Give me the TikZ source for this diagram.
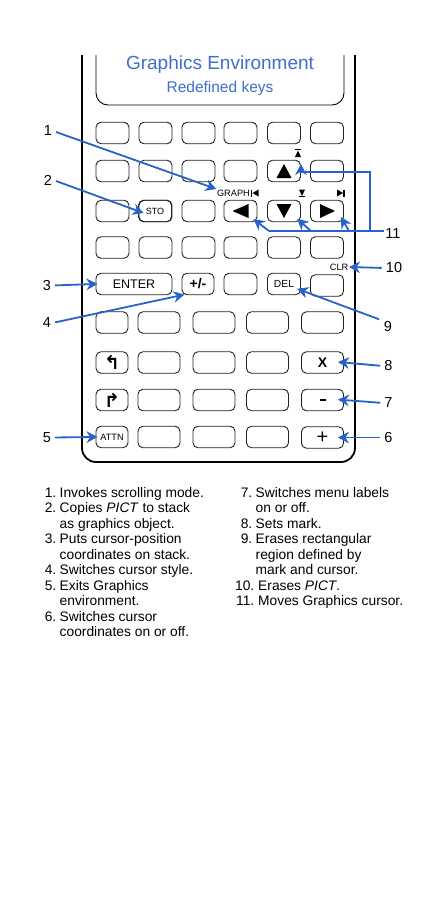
\documentclass[tikz,border=0pt]{standalone}
\usepackage{fontspec}
\setmainfont{Liberation Sans}
\newfontfamily\dejavu{DejaVu Sans}
\usetikzlibrary{arrows.meta,calc}
\definecolor{arrowblue}{RGB}{40,100,200}
\definecolor{titleblue}{RGB}{65,110,205}
\definecolor{keyline}{RGB}{35,35,35}
\begin{document}
\begin{tikzpicture}[x=1pt,y=-1pt,
  key/.style={draw=keyline,line width=0.9pt,rounded corners=5pt,inner sep=0pt,minimum height=21.5pt},
  kw/.style={key,minimum width=33pt},
  kl/.style={key,minimum width=42pt},
  ks/.style={key,minimum width=32pt},
  ptr/.style={draw=arrowblue,line width=1.8pt,-{Stealth[length=11pt,width=11.5pt,inset=3.5pt]}},
  pline/.style={draw=arrowblue,line width=1.8pt},
  num/.style={font=\fontsize{14.5}{14.5}\selectfont,inner sep=1pt},
  small/.style={font=\fontsize{9.2}{10}\selectfont,inner sep=0.5pt},
  itemnum/.style={anchor=base east,inner sep=0pt,font=\fontsize{13.8}{15.5}\selectfont},
  itemtxt/.style={anchor=base west,inner sep=0pt,font=\fontsize{13.8}{15.5}\selectfont},
  glyph/.style={fill=black}]
\useasboundingbox (0,0) rectangle (425,900);
\fill[white] (0,0) rectangle (425,900);

% body
\draw[line width=1.8pt,rounded corners=14pt] (82,55) -- (82,462) -- (355,462) -- (355,55);
% screen
\draw[line width=0.9pt,rounded corners=12pt] (96,55) -- (96,105) -- (344,105) -- (344,55);
\node[titleblue,font=\fontsize{19}{20}\selectfont] (title) at (220,65) {Graphics Environment};
\node[titleblue,font=\fontsize{15.5}{17}\selectfont] (subtitle) at (220,88.5) {Redefined keys};

% rows 1-4 (six keys)
\foreach \r/\y in {1/133,2/171,3/211,4/247.5}{
  \foreach \c/\x in {1/112.5,2/155.5,3/198.5,4/240.5,5/284,6/327}{
    \node[kw] (k\r\c) at (\x,\y) {};
  }
}
% row 5
\node[key,minimum width=76pt,font=\fontsize{12.5}{13}\selectfont] (k51) at (134,284) {ENTER};
\node[key,minimum width=32pt,font=\bfseries\fontsize{14}{14}\selectfont] (k52) at (198,284) {+/-};
\node[kw] (k53) at (240.5,284) {};
\node[kw,font=\fontsize{10.3}{11}\selectfont] (k54) at (284,284) {DEL};
\node[kw] (k55) at (327,285.5) {};
% rows 6-9
\foreach \r/\y in {6/322.5,7/362.5,8/400,9/437}{
  \foreach \c/\x in {2/159,3/214,4/267.5}{
    \node[kl] (k\r\c) at (\x,\y) {};
  }
}
\node[ks] (k61) at (112,322.5) {};
\node[kl] (k65) at (322.5,322.5) {};
\node[ks,font=\dejavu\bfseries\fontsize{19}{19}\selectfont] (k71) at (112,362.5) {↰};
\node[kl,font=\bfseries\fontsize{14}{14}\selectfont] (k75) at (322.5,362.5) {X};
\node[ks,font=\dejavu\bfseries\fontsize{19}{19}\selectfont] (k81) at (112,400) {↱};
\node[kl] (k85) at (322.5,400) {};
\fill ($(k85)+(-3,-1.2)$) rectangle ($(k85)+(3,1.2)$);
\node[ks,font=\fontsize{9.2}{10}\selectfont] (k91) at (112,437) {ATTN};
\node[kl,font=\fontsize{20}{20}\selectfont] (k95) at (322.5,437.5) {+};

% STO
\node[kw,font=\fontsize{9}{10}\selectfont] (k32) at (155,211) {STO};

% big triangles
\fill ($(k25)+(-7.5,7)$) -- ($(k25)+(7.5,7)$) -- ($(k25)+(0,-7)$) -- cycle;
\fill ($(k34)+(8,-7)$) -- ($(k34)+(8,7)$) -- ($(k34)+(-8,0)$) -- cycle;
\fill ($(k35)+(-7.5,-7)$) -- ($(k35)+(7.5,-7)$) -- ($(k35)+(0,7)$) -- cycle;
\fill ($(k36)+(-7,-7)$) -- ($(k36)+(-7,7)$) -- ($(k36)+(8,0)$) -- cycle;

% small shifted labels
\node[small,anchor=east] (graph) at (250.5,193) {GRAPH};
\fill (251,189.5) rectangle (252.2,196.5);
\fill (252.5,193) -- (258.5,189.5) -- (258.5,196.5) -- cycle;
\fill (294.8,149) rectangle (301.2,150.2);
\fill (298,150.5) -- (295,157) -- (301,157) -- cycle;
\fill (298.8,196.2) rectangle (305.2,197.4);
\fill (302,196) -- (299,189.5) -- (305,189.5) -- cycle;
\fill (337,189.5) -- (337,196.5) -- (343,193) -- cycle;
\fill (343.3,189.5) rectangle (344.5,196.5);
\node[small,anchor=east] (clr) at (349,267) {CLR};

% number labels
\node[num] (l1) at (48,131) {1};
\node[num] (l2) at (48,180) {2};
\node[num] (l3) at (47,285.5) {3};
\node[num] (l4) at (47,323) {4};
\node[num] (l5) at (47,437.5) {5};
\node[num] (l6) at (388.5,437.5) {6};
\node[num] (l7) at (388.5,403) {7};
\node[num] (l8) at (388.5,366) {8};
\node[num] (l9) at (388,327) {9};
\node[num] (l10) at (394,268) {10};
\node[num] (l11) at (393,234) {11};

% pointers
\draw[ptr,shorten <=3pt] (l1.east) -- (graph.north west);
\draw[ptr,shorten <=3pt,shorten >=-6pt] (l2.east) -- (k32.west);
\draw[ptr,shorten <=3pt,shorten >=-2pt] (l3.east) -- (k51.west);
\draw[ptr,shorten <=3pt,shorten >=-3pt] (l4.east) -- (k52.south west);
\draw[ptr,shorten <=3pt,shorten >=-2pt] (l5.east) -- (k91.west);
\draw[ptr,shorten <=3pt,shorten >=-6pt] (l6.west) -- (k95.east);
\draw[ptr,shorten <=3pt,shorten >=-6pt] (l7.west) -- (k85.east);
\draw[ptr,shorten <=3pt,shorten >=-6pt] (l8.west) -- (k75.east);
\draw[ptr,shorten <=4pt,shorten >=-4pt] (l9.north west) -- (k54.-20);
\draw[ptr,shorten <=3pt] (l10.west) -- (clr.east);

\coordinate (b11) at (384,231);
\coordinate (v11b) at (370,231);
\coordinate (v11t) at (370,172);
\coordinate (a1) at (269,231);
\coordinate (a2) at (311,231);
\coordinate (a3) at (349,231);
\draw[pline] (b11) -- (a1);
\draw[ptr,shorten >=-7pt] (v11b) -- (v11t) -- (v11t -| k25.east) -- (k25.east);
\draw[ptr,shorten >=-5pt] (a1) -- (k34.south east);
\draw[ptr,shorten >=-5pt] (a2) -- (k35.south east);
\draw[ptr,shorten >=-6pt] (a3) -- (k36.south east);

% descriptions
\node[itemnum] (n1) at (56.5,497) {1.};
\node[itemtxt] (t1) at (59.5,497) {Invokes scrolling mode.};
\node[itemnum] (n2) at (56.5,512.5) {2.};
\node[itemtxt] (t2) at (59.5,512.5) {Copies \textit{PICT} to stack};
\node[itemtxt] (t2b) at (59.5,528) {as graphics object.};
\node[itemnum] (n3) at (56.5,543.5) {3.};
\node[itemtxt] (t3) at (59.5,543.5) {Puts cursor-position};
\node[itemtxt] (t3b) at (59.5,559) {coordinates on stack.};
\node[itemnum] (n4) at (56.5,574.5) {4.};
\node[itemtxt] (t4) at (59.5,574.5) {Switches cursor style.};
\node[itemnum] (n5) at (56.5,590) {5.};
\node[itemtxt] (t5) at (59.5,590) {Exits Graphics};
\node[itemtxt] (t5b) at (59.5,605.5) {environment.};
\node[itemnum] (n6) at (56.5,621) {6.};
\node[itemtxt] (t6) at (59.5,621) {Switches cursor};
\node[itemtxt] (t6b) at (59.5,636.5) {coordinates on or off.};

\node[itemnum] (n7) at (252.5,497) {7.};
\node[itemtxt] (t7) at (255.5,497) {Switches menu labels};
\node[itemtxt] (t7b) at (255.5,512.5) {on or off.};
\node[itemnum] (n8) at (252.5,528) {8.};
\node[itemtxt] (t8) at (255.5,528) {Sets mark.};
\node[itemnum] (n9) at (252.5,543.5) {9.};
\node[itemtxt] (t9) at (255.5,543.5) {Erases rectangular};
\node[itemtxt] (t9b) at (255.5,559) {region defined by};
\node[itemtxt] (t9c) at (255.5,574.5) {mark and cursor.};
\node[itemnum] (n10) at (254.5,590) {10.};
\node[itemtxt] (t10) at (258,590) {Erases \textit{PICT}.};
\node[itemnum] (n11) at (254.5,605.5) {11.};
\node[itemtxt] (t11) at (258,605.5) {Moves Graphics cursor.};
\end{tikzpicture}
\end{document}
